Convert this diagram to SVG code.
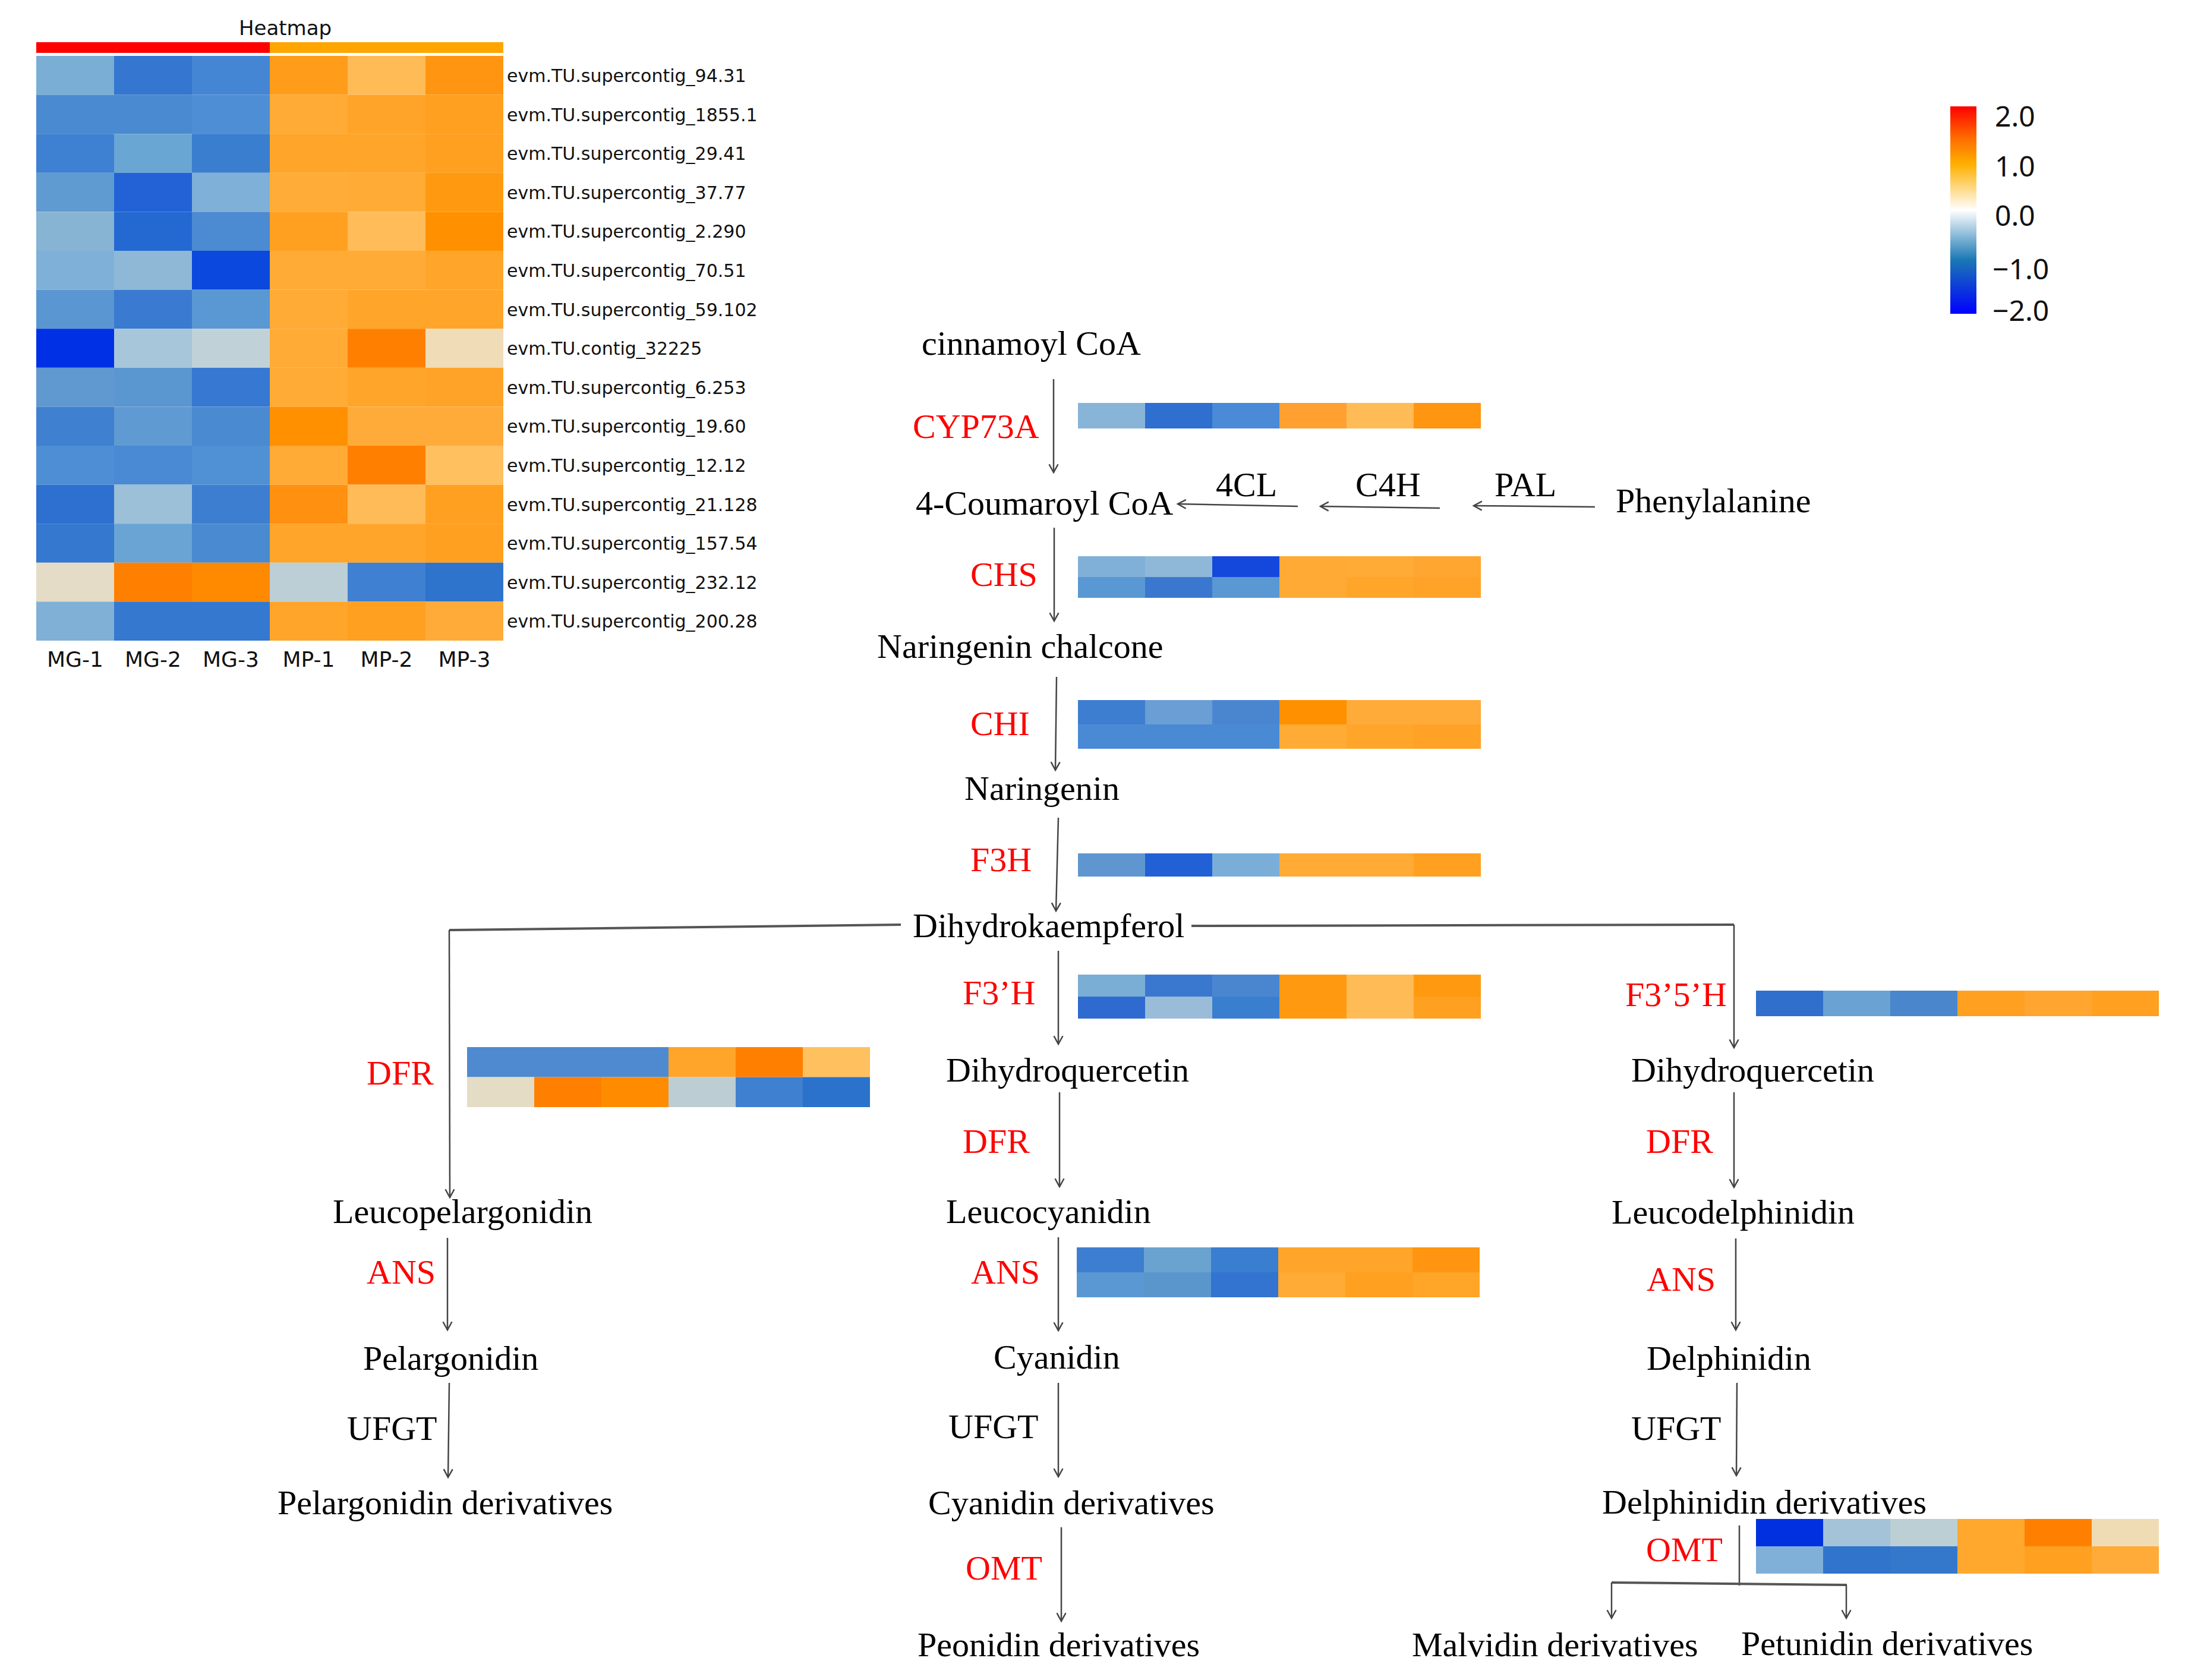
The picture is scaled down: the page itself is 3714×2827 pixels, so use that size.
<svg xmlns="http://www.w3.org/2000/svg" width="3714" height="2827" viewBox="0 0 3714 2827">
<style>
.t{font-family:"Liberation Serif","Times New Roman",serif;font-size:58px;fill:#000}
.r{font-family:"Liberation Serif","Times New Roman",serif;font-size:58px;fill:#ff0000}
.lab{font-family:"DejaVu Sans",Verdana,sans-serif;font-size:30px;fill:#111}
.col{font-family:"DejaVu Sans",Verdana,sans-serif;font-size:36px;fill:#111;text-anchor:middle}
.leg{font-family:"Noto Sans","Open Sans",sans-serif;font-size:48px;fill:#111}
.c{fill:none;stroke:#444;stroke-width:2.5}
.ch{fill:none;stroke:#555;stroke-width:4}
</style>
<defs>
<marker id="ah" markerUnits="userSpaceOnUse" markerWidth="20" markerHeight="20" viewBox="-12 -8 14 16" refX="0" refY="0" orient="auto">
<path d="M-11,-6 L0,0 L-11,6" fill="none" stroke="#444" stroke-width="2"/>
</marker>
<linearGradient id="lg" x1="0" y1="0" x2="0" y2="1">
<stop offset="0" stop-color="#ff0000"/>
<stop offset="0.15" stop-color="#ff6a00"/>
<stop offset="0.28" stop-color="#ffb000"/>
<stop offset="0.5" stop-color="#ffffff"/>
<stop offset="0.74" stop-color="#1a78b4"/>
<stop offset="1" stop-color="#0000ff"/>
</linearGradient>
</defs>
<rect width="3714" height="2827" fill="#ffffff"/>

<g id="heatmap">
<text x="480" y="59" font-family="DejaVu Sans,sans-serif" font-size="34" text-anchor="middle" fill="#111">Heatmap</text>
<rect x="61" y="71" width="393" height="18" fill="#ff0000"/>
<rect x="454" y="71" width="393" height="18" fill="#ffa500"/>
<g id="cells">
<rect x="61" y="94" width="131" height="65.6" fill="#7aaed4"/><rect x="192" y="94" width="131" height="65.6" fill="#3476d0"/><rect x="323" y="94" width="131" height="65.6" fill="#4486d4"/><rect x="454" y="94" width="131" height="65.6" fill="#ff9c1a"/><rect x="585" y="94" width="131" height="65.6" fill="#ffbb55"/><rect x="716" y="94" width="131" height="65.6" fill="#ff9510"/>
<rect x="61" y="159.6" width="131" height="65.6" fill="#4a8ad0"/><rect x="192" y="159.6" width="131" height="65.6" fill="#4a8ad0"/><rect x="323" y="159.6" width="131" height="65.6" fill="#4e8ed4"/><rect x="454" y="159.6" width="131" height="65.6" fill="#ffab35"/><rect x="585" y="159.6" width="131" height="65.6" fill="#ffa329"/><rect x="716" y="159.6" width="131" height="65.6" fill="#ffa020"/>
<rect x="61" y="225.2" width="131" height="65.6" fill="#3e80d2"/><rect x="192" y="225.2" width="131" height="65.6" fill="#6aa6d4"/><rect x="323" y="225.2" width="131" height="65.6" fill="#3a7ed0"/><rect x="454" y="225.2" width="131" height="65.6" fill="#ffa52a"/><rect x="585" y="225.2" width="131" height="65.6" fill="#ffa52a"/><rect x="716" y="225.2" width="131" height="65.6" fill="#ffa020"/>
<rect x="61" y="290.8" width="131" height="65.6" fill="#5f9ad0"/><rect x="192" y="290.8" width="131" height="65.6" fill="#2262d6"/><rect x="323" y="290.8" width="131" height="65.6" fill="#7fb0d8"/><rect x="454" y="290.8" width="131" height="65.6" fill="#ffad38"/><rect x="585" y="290.8" width="131" height="65.6" fill="#ffab35"/><rect x="716" y="290.8" width="131" height="65.6" fill="#ff9a10"/>
<rect x="61" y="356.4" width="131" height="65.6" fill="#88b4d4"/><rect x="192" y="356.4" width="131" height="65.6" fill="#2468d2"/><rect x="323" y="356.4" width="131" height="65.6" fill="#4c8ad2"/><rect x="454" y="356.4" width="131" height="65.6" fill="#ffa020"/><rect x="585" y="356.4" width="131" height="65.6" fill="#ffbc58"/><rect x="716" y="356.4" width="131" height="65.6" fill="#ff9000"/>
<rect x="61" y="422" width="131" height="65.6" fill="#7eb0d8"/><rect x="192" y="422" width="131" height="65.6" fill="#8eb8d6"/><rect x="323" y="422" width="131" height="65.6" fill="#0a48de"/><rect x="454" y="422" width="131" height="65.6" fill="#ffab35"/><rect x="585" y="422" width="131" height="65.6" fill="#ffab35"/><rect x="716" y="422" width="131" height="65.6" fill="#ffa52a"/>
<rect x="61" y="487.6" width="131" height="65.6" fill="#5a96d2"/><rect x="192" y="487.6" width="131" height="65.6" fill="#3a7ad0"/><rect x="323" y="487.6" width="131" height="65.6" fill="#5a98d4"/><rect x="454" y="487.6" width="131" height="65.6" fill="#ffab35"/><rect x="585" y="487.6" width="131" height="65.6" fill="#ffa52a"/><rect x="716" y="487.6" width="131" height="65.6" fill="#ffa52a"/>
<rect x="61" y="553.2" width="131" height="65.6" fill="#0030e6"/><rect x="192" y="553.2" width="131" height="65.6" fill="#a8c6da"/><rect x="323" y="553.2" width="131" height="65.6" fill="#c0d2d8"/><rect x="454" y="553.2" width="131" height="65.6" fill="#ffab35"/><rect x="585" y="553.2" width="131" height="65.6" fill="#ff8000"/><rect x="716" y="553.2" width="131" height="65.6" fill="#f0dcb6"/>
<rect x="61" y="618.8" width="131" height="65.6" fill="#6098d0"/><rect x="192" y="618.8" width="131" height="65.6" fill="#5a96d0"/><rect x="323" y="618.8" width="131" height="65.6" fill="#3678d2"/><rect x="454" y="618.8" width="131" height="65.6" fill="#ffab35"/><rect x="585" y="618.8" width="131" height="65.6" fill="#ffa52a"/><rect x="716" y="618.8" width="131" height="65.6" fill="#ffa328"/>
<rect x="61" y="684.4" width="131" height="65.6" fill="#4080d0"/><rect x="192" y="684.4" width="131" height="65.6" fill="#609ad2"/><rect x="323" y="684.4" width="131" height="65.6" fill="#4a8ad0"/><rect x="454" y="684.4" width="131" height="65.6" fill="#ff9000"/><rect x="585" y="684.4" width="131" height="65.6" fill="#ffab3a"/><rect x="716" y="684.4" width="131" height="65.6" fill="#ffab3a"/>
<rect x="61" y="750" width="131" height="65.6" fill="#4e8ed4"/><rect x="192" y="750" width="131" height="65.6" fill="#4a8ad4"/><rect x="323" y="750" width="131" height="65.6" fill="#5090d4"/><rect x="454" y="750" width="131" height="65.6" fill="#ffab35"/><rect x="585" y="750" width="131" height="65.6" fill="#ff8000"/><rect x="716" y="750" width="131" height="65.6" fill="#ffc060"/>
<rect x="61" y="815.6" width="131" height="65.6" fill="#2e70d0"/><rect x="192" y="815.6" width="131" height="65.6" fill="#9cc0d8"/><rect x="323" y="815.6" width="131" height="65.6" fill="#3e7ed0"/><rect x="454" y="815.6" width="131" height="65.6" fill="#ff9010"/><rect x="585" y="815.6" width="131" height="65.6" fill="#ffbb58"/><rect x="716" y="815.6" width="131" height="65.6" fill="#ffa020"/>
<rect x="61" y="881.2" width="131" height="65.6" fill="#3478d0"/><rect x="192" y="881.2" width="131" height="65.6" fill="#6aa4d4"/><rect x="323" y="881.2" width="131" height="65.6" fill="#4a8ad0"/><rect x="454" y="881.2" width="131" height="65.6" fill="#ffa52a"/><rect x="585" y="881.2" width="131" height="65.6" fill="#ffa52a"/><rect x="716" y="881.2" width="131" height="65.6" fill="#ffa020"/>
<rect x="61" y="946.8" width="131" height="65.6" fill="#e4dcc6"/><rect x="192" y="946.8" width="131" height="65.6" fill="#ff8000"/><rect x="323" y="946.8" width="131" height="65.6" fill="#ff8a00"/><rect x="454" y="946.8" width="131" height="65.6" fill="#bccfd6"/><rect x="585" y="946.8" width="131" height="65.6" fill="#4080d2"/><rect x="716" y="946.8" width="131" height="65.6" fill="#2e74cc"/>
<rect x="61" y="1012.4" width="131" height="65.6" fill="#80b0d6"/><rect x="192" y="1012.4" width="131" height="65.6" fill="#3478d0"/><rect x="323" y="1012.4" width="131" height="65.6" fill="#3478d0"/><rect x="454" y="1012.4" width="131" height="65.6" fill="#ffa52a"/><rect x="585" y="1012.4" width="131" height="65.6" fill="#ffa020"/><rect x="716" y="1012.4" width="131" height="65.6" fill="#ffab3a"/>
</g>
<g id="rowlabels">
<text class="lab" x="853" y="138">evm.TU.supercontig_94.31</text>
<text class="lab" x="853" y="203.6">evm.TU.supercontig_1855.1</text>
<text class="lab" x="853" y="269.2">evm.TU.supercontig_29.41</text>
<text class="lab" x="853" y="334.8">evm.TU.supercontig_37.77</text>
<text class="lab" x="853" y="400.4">evm.TU.supercontig_2.290</text>
<text class="lab" x="853" y="466">evm.TU.supercontig_70.51</text>
<text class="lab" x="853" y="531.6">evm.TU.supercontig_59.102</text>
<text class="lab" x="853" y="597.2">evm.TU.contig_32225</text>
<text class="lab" x="853" y="662.8">evm.TU.supercontig_6.253</text>
<text class="lab" x="853" y="728.4">evm.TU.supercontig_19.60</text>
<text class="lab" x="853" y="794">evm.TU.supercontig_12.12</text>
<text class="lab" x="853" y="859.6">evm.TU.supercontig_21.128</text>
<text class="lab" x="853" y="925.2">evm.TU.supercontig_157.54</text>
<text class="lab" x="853" y="990.8">evm.TU.supercontig_232.12</text>
<text class="lab" x="853" y="1056.4">evm.TU.supercontig_200.28</text>
</g>
<g id="collabels">
<text class="col" x="126.5" y="1122">MG-1</text>
<text class="col" x="257.5" y="1122">MG-2</text>
<text class="col" x="388.5" y="1122">MG-3</text>
<text class="col" x="519.5" y="1122">MP-1</text>
<text class="col" x="650.5" y="1122">MP-2</text>
<text class="col" x="781.5" y="1122">MP-3</text>
</g>
</g>

<g id="legend">
<rect x="3282" y="179" width="44" height="349" fill="url(#lg)"/>
<text class="leg" x="3357" y="213">2.0</text>
<text class="leg" x="3357" y="297">1.0</text>
<text class="leg" x="3357" y="380">0.0</text>
<text class="leg" x="3353" y="470">−1.0</text>
<text class="leg" x="3353" y="540">−2.0</text>
</g>

<g id="connectors">
<line class="c" x1="1773" y1="638" x2="1773" y2="795" marker-end="url(#ah)"/>
<line class="c" x1="2184" y1="852" x2="1982" y2="848" marker-end="url(#ah)"/>
<line class="c" x1="2423" y1="855" x2="2222" y2="852" marker-end="url(#ah)"/>
<line class="c" x1="2684" y1="853" x2="2480" y2="851" marker-end="url(#ah)"/>
<line class="c" x1="1774" y1="888" x2="1774" y2="1045" marker-end="url(#ah)"/>
<line class="c" x1="1778" y1="1139" x2="1776" y2="1296" marker-end="url(#ah)"/>
<line class="c" x1="1781" y1="1376" x2="1777" y2="1533" marker-end="url(#ah)"/>
<line class="ch" x1="2005" y1="1558" x2="2918" y2="1556"/>
<line class="c" x1="2918" y1="1556" x2="2918" y2="1763" marker-end="url(#ah)"/>
<line class="ch" x1="1516" y1="1556" x2="756" y2="1565"/>
<line class="c" x1="756" y1="1565" x2="757" y2="2015" marker-end="url(#ah)"/>
<line class="c" x1="1781" y1="1600" x2="1781" y2="1757" marker-end="url(#ah)"/>
<line class="c" x1="1783" y1="1838" x2="1783" y2="1997" marker-end="url(#ah)"/>
<line class="c" x1="2918" y1="1838" x2="2918" y2="1998" marker-end="url(#ah)"/>
<line class="c" x1="753" y1="2083" x2="753" y2="2238" marker-end="url(#ah)"/>
<line class="c" x1="1781" y1="2082" x2="1781" y2="2239" marker-end="url(#ah)"/>
<line class="c" x1="2921" y1="2084" x2="2921" y2="2238" marker-end="url(#ah)"/>
<line class="c" x1="756" y1="2327" x2="754" y2="2486" marker-end="url(#ah)"/>
<line class="c" x1="1781" y1="2327" x2="1781" y2="2485" marker-end="url(#ah)"/>
<line class="c" x1="2923" y1="2327" x2="2922" y2="2483" marker-end="url(#ah)"/>
<line class="c" x1="1786" y1="2570" x2="1786" y2="2728" marker-end="url(#ah)"/>
<line class="c" x1="2927" y1="2567" x2="2927" y2="2668"/>
<line class="ch" x1="2712" y1="2663" x2="3108" y2="2667"/>
<line class="c" x1="2712" y1="2663" x2="2712" y2="2723" marker-end="url(#ah)"/>
<line class="c" x1="3107" y1="2667" x2="3107" y2="2723" marker-end="url(#ah)"/>
</g>

<g id="strips">
<g id="strip-CYP73A">
<rect x="1814" y="678" width="113" height="43" fill="#88b4d8"/><rect x="1927" y="678" width="113" height="43" fill="#2e6fd0"/><rect x="2040" y="678" width="113" height="43" fill="#4a8ad6"/><rect x="2153" y="678" width="113" height="43" fill="#ffa030"/><rect x="2266" y="678" width="113" height="43" fill="#ffbb55"/><rect x="2379" y="678" width="113" height="43" fill="#ff9510"/>
</g>
<g id="strip-CHS">
<rect x="1814" y="936" width="113" height="35" fill="#80b0d8"/><rect x="1927" y="936" width="113" height="35" fill="#8fb8d8"/><rect x="2040" y="936" width="113" height="35" fill="#1448dc"/><rect x="2153" y="936" width="113" height="35" fill="#ffaa35"/><rect x="2266" y="936" width="113" height="35" fill="#ffab35"/><rect x="2379" y="936" width="113" height="35" fill="#ffa630"/>
<rect x="1814" y="971" width="113" height="35" fill="#5a98d4"/><rect x="1927" y="971" width="113" height="35" fill="#3a78d0"/><rect x="2040" y="971" width="113" height="35" fill="#5a98d4"/><rect x="2153" y="971" width="113" height="35" fill="#ffaa35"/><rect x="2266" y="971" width="113" height="35" fill="#ffa52a"/><rect x="2379" y="971" width="113" height="35" fill="#ffa328"/>
</g>
<g id="strip-CHI">
<rect x="1814" y="1178" width="113" height="41" fill="#3e7ed0"/><rect x="1927" y="1178" width="113" height="41" fill="#6a9ed4"/><rect x="2040" y="1178" width="113" height="41" fill="#4a86d0"/><rect x="2153" y="1178" width="113" height="41" fill="#ff9000"/><rect x="2266" y="1178" width="113" height="41" fill="#ffab3a"/><rect x="2379" y="1178" width="113" height="41" fill="#ffab3a"/>
<rect x="1814" y="1219" width="113" height="41" fill="#4a8ad4"/><rect x="1927" y="1219" width="113" height="41" fill="#4a8ad4"/><rect x="2040" y="1219" width="113" height="41" fill="#4a8ad4"/><rect x="2153" y="1219" width="113" height="41" fill="#ffab35"/><rect x="2266" y="1219" width="113" height="41" fill="#ffa52a"/><rect x="2379" y="1219" width="113" height="41" fill="#ffa225"/>
</g>
<g id="strip-F3H">
<rect x="1814" y="1436" width="113" height="39" fill="#6096d0"/><rect x="1927" y="1436" width="113" height="39" fill="#2260d6"/><rect x="2040" y="1436" width="113" height="39" fill="#7aaed8"/><rect x="2153" y="1436" width="113" height="39" fill="#ffab35"/><rect x="2266" y="1436" width="113" height="39" fill="#ffab35"/><rect x="2379" y="1436" width="113" height="39" fill="#ffa020"/>
</g>
<g id="strip-F3pH">
<rect x="1814" y="1640" width="113" height="37" fill="#7aaed4"/><rect x="1927" y="1640" width="113" height="37" fill="#3a78d0"/><rect x="2040" y="1640" width="113" height="37" fill="#4a86d0"/><rect x="2153" y="1640" width="113" height="37" fill="#ff9a10"/><rect x="2266" y="1640" width="113" height="37" fill="#ffbb55"/><rect x="2379" y="1640" width="113" height="37" fill="#ff9a10"/>
<rect x="1814" y="1677" width="113" height="37" fill="#2e6ad0"/><rect x="1927" y="1677" width="113" height="37" fill="#9abcd8"/><rect x="2040" y="1677" width="113" height="37" fill="#3a7ed0"/><rect x="2153" y="1677" width="113" height="37" fill="#ff9a10"/><rect x="2266" y="1677" width="113" height="37" fill="#ffbb55"/><rect x="2379" y="1677" width="113" height="37" fill="#ffa020"/>
</g>
<g id="strip-F35H">
<rect x="2955" y="1667" width="113" height="43" fill="#3070cc"/><rect x="3068" y="1667" width="113" height="43" fill="#6aa2d4"/><rect x="3181" y="1667" width="113" height="43" fill="#4a86cc"/><rect x="3294" y="1667" width="113" height="43" fill="#ffa020"/><rect x="3407" y="1667" width="113" height="43" fill="#ffa530"/><rect x="3520" y="1667" width="113" height="43" fill="#ffa020"/>
</g>
<g id="strip-DFR">
<rect x="786" y="1762" width="113" height="50.5" fill="#4f8ad0"/><rect x="899" y="1762" width="113" height="50.5" fill="#4f8ad0"/><rect x="1012" y="1762" width="113" height="50.5" fill="#4f8ad0"/><rect x="1125" y="1762" width="113" height="50.5" fill="#ffa52a"/><rect x="1238" y="1762" width="113" height="50.5" fill="#ff8000"/><rect x="1351" y="1762" width="113" height="50.5" fill="#ffc060"/>
<rect x="786" y="1812.5" width="113" height="50.5" fill="#e4dcc4"/><rect x="899" y="1812.5" width="113" height="50.5" fill="#ff8000"/><rect x="1012" y="1812.5" width="113" height="50.5" fill="#ff8c00"/><rect x="1125" y="1812.5" width="113" height="50.5" fill="#bccdd4"/><rect x="1238" y="1812.5" width="113" height="50.5" fill="#4080d0"/><rect x="1351" y="1812.5" width="113" height="50.5" fill="#2a72cc"/>
</g>
<g id="strip-ANS">
<rect x="1812" y="2099" width="113" height="42" fill="#3e7ed0"/><rect x="1925" y="2099" width="113" height="42" fill="#6aa2d0"/><rect x="2038" y="2099" width="113" height="42" fill="#3a7ed0"/><rect x="2151" y="2099" width="113" height="42" fill="#ffa52a"/><rect x="2264" y="2099" width="113" height="42" fill="#ffa52a"/><rect x="2377" y="2099" width="113" height="42" fill="#ff9510"/>
<rect x="1812" y="2141" width="113" height="42" fill="#5a98d4"/><rect x="1925" y="2141" width="113" height="42" fill="#5a96cc"/><rect x="2038" y="2141" width="113" height="42" fill="#3274d0"/><rect x="2151" y="2141" width="113" height="42" fill="#ffab35"/><rect x="2264" y="2141" width="113" height="42" fill="#ffa020"/><rect x="2377" y="2141" width="113" height="42" fill="#ffa528"/>
</g>
<g id="strip-OMT">
<rect x="2955" y="2556" width="113" height="46" fill="#0030e0"/><rect x="3068" y="2556" width="113" height="46" fill="#a4c2d8"/><rect x="3181" y="2556" width="113" height="46" fill="#bccfd4"/><rect x="3294" y="2556" width="113" height="46" fill="#ffa82d"/><rect x="3407" y="2556" width="113" height="46" fill="#ff8000"/><rect x="3520" y="2556" width="113" height="46" fill="#f0dcb4"/>
<rect x="2955" y="2602" width="113" height="46" fill="#80b0d8"/><rect x="3068" y="2602" width="113" height="46" fill="#3074cc"/><rect x="3181" y="2602" width="113" height="46" fill="#3478cc"/><rect x="3294" y="2602" width="113" height="46" fill="#ffa82d"/><rect x="3407" y="2602" width="113" height="46" fill="#ffa020"/><rect x="3520" y="2602" width="113" height="46" fill="#ffab3a"/>
</g>
</g>

<g id="n-cinnamoyl"><text class="t" x="1551" y="597">cinnamoyl CoA</text></g>
<g id="e-CYP73A"><text class="r" x="1536" y="737">CYP73A</text></g>
<g id="n-coumaroyl"><text class="t" x="1541" y="866">4-Coumaroyl CoA</text></g>
<g id="e-4CL"><text class="t" x="2046" y="835">4CL</text></g>
<g id="e-C4H"><text class="t" x="2281" y="835">C4H</text></g>
<g id="e-PAL"><text class="t" x="2515" y="835">PAL</text></g>
<g id="n-phe"><text class="t" x="2719" y="862">Phenylalanine</text></g>
<g id="e-CHS"><text class="r" x="1633" y="986">CHS</text></g>
<g id="n-chalcone"><text class="t" x="1476" y="1107">Naringenin chalcone</text></g>
<g id="e-CHI"><text class="r" x="1633" y="1237">CHI</text></g>
<g id="n-naringenin"><text class="t" x="1623" y="1346">Naringenin</text></g>
<g id="e-F3H"><text class="r" x="1633" y="1466">F3H</text></g>
<g id="n-dhk"><text class="t" x="1536" y="1577">Dihydrokaempferol</text></g>
<g id="e-F3pH"><text class="r" x="1620" y="1690">F3’H</text></g>
<g id="e-F35H"><text class="r" x="2735" y="1693">F3’5’H</text></g>
<g id="e-DFR1"><text class="r" x="617" y="1825">DFR</text></g>
<g id="n-dhq1"><text class="t" x="1592" y="1820">Dihydroquercetin</text></g>
<g id="n-dhq2"><text class="t" x="2745" y="1820">Dihydroquercetin</text></g>
<g id="e-DFR2"><text class="r" x="1620" y="1940">DFR</text></g>
<g id="e-DFR3"><text class="r" x="2770" y="1940">DFR</text></g>
<g id="n-leucopel"><text class="t" x="560" y="2058">Leucopelargonidin</text></g>
<g id="n-leucocya"><text class="t" x="1592" y="2058">Leucocyanidin</text></g>
<g id="n-leucodel"><text class="t" x="2712" y="2059">Leucodelphinidin</text></g>
<g id="e-ANS1"><text class="r" x="617" y="2160">ANS</text></g>
<g id="e-ANS2"><text class="r" x="1634" y="2160">ANS</text></g>
<g id="e-ANS3"><text class="r" x="2771" y="2172">ANS</text></g>
<g id="n-pel"><text class="t" x="611" y="2305">Pelargonidin</text></g>
<g id="n-cya"><text class="t" x="1672" y="2303">Cyanidin</text></g>
<g id="n-del"><text class="t" x="2771" y="2305">Delphinidin</text></g>
<g id="e-UFGT1"><text class="t" x="584" y="2423">UFGT</text></g>
<g id="e-UFGT2"><text class="t" x="1596" y="2420">UFGT</text></g>
<g id="e-UFGT3"><text class="t" x="2745" y="2423">UFGT</text></g>
<g id="n-pelder"><text class="t" x="467" y="2548">Pelargonidin derivatives</text></g>
<g id="n-cyader"><text class="t" x="1562" y="2548">Cyanidin derivatives</text></g>
<g id="n-delder"><text class="t" x="2696" y="2547">Delphinidin derivatives</text></g>
<g id="e-OMT1"><text class="r" x="1625" y="2658">OMT</text></g>
<g id="e-OMT2"><text class="r" x="2770" y="2627">OMT</text></g>
<g id="n-peo"><text class="t" x="1544" y="2787">Peonidin derivatives</text></g>
<g id="n-mal"><text class="t" x="2376" y="2787">Malvidin derivatives</text></g>
<g id="n-pet"><text class="t" x="2930" y="2785">Petunidin derivatives</text></g>
</svg>
